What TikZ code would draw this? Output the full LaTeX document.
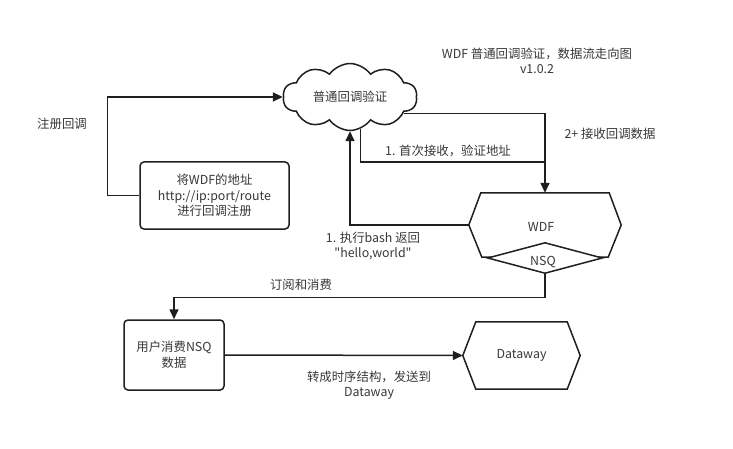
\documentclass[tikz,border=0pt]{standalone}
\usepackage{fontspec}
\setmainfont{Noto Sans CJK SC}[Ligatures=TeXOff]
\usetikzlibrary{shapes.symbols,shapes.geometric,arrows.meta,calc}
\begin{document}
\begin{tikzpicture}[x=1pt,y=-1pt,
  line/.style={draw=black!88, line width=1.5pt},
  arr/.style={line, -{Triangle[length=10pt,width=9pt]}},
  txt/.style={text=black!78, font=\fontsize{12.4}{15.5}\selectfont, align=center, inner sep=0pt},
  box/.style={line, rounded corners=4pt, fill=white, txt},
  hexbase/.style={draw=none, txt}
]
\useasboundingbox (0,0) rectangle (733,449);

% title
\node[txt] (title) at (537,61) {WDF 普通回调验证，数据流走向图\\v1.0.2};

% nodes
\node[cloud, cloud puffs=10, cloud puff arc=110, aspect=2, line, fill=white,
      minimum width=134pt, minimum height=66pt, txt] (cloud) at (350,97) {普通回调验证};
\node[box, minimum width=149pt, minimum height=67pt] (reg) at (214.5,195.5)
  {将WDF的地址\\http://ip:port/route\\进行回调注册};
\node[hexbase, minimum width=152pt, minimum height=64pt] (wdf) at (545,225) {};
\node[hexbase, minimum width=117pt, minimum height=67pt] (dw) at (521.5,355.5) {Dataway};
\node[box, minimum width=100pt, minimum height=70pt] (user) at (174,355) {用户消费NSQ\\数据};

% hexagons
\draw[line] (wdf.west) -- ($(wdf.north west)+(12,0)$) -- ($(wdf.north east)+(-12,0)$)
  -- (wdf.east) -- ($(wdf.south east)+(-13,0)$) -- ($(wdf.south west)+(13,0)$) -- cycle;
\draw[line] (dw.west) -- ($(dw.north west)+(13,0)$) -- ($(dw.north east)+(-13,0)$)
  -- (dw.east) -- ($(dw.south east)+(-13,0)$) -- ($(dw.south west)+(13,0)$) -- cycle;
\node[txt] (wdftext) at (541,227) {WDF};
\node[diamond, line, fill=white, minimum width=115pt, minimum height=31pt, txt] (nsq) at (545,258) {};
\node[txt] (nsqtext) at (543,262) {NSQ};

% connectors
\draw[arr] (reg.west) -- ++(-32,0) |- (cloud.west);
\draw[arr] (cloud.-17) -| (wdf.north);
\draw[line] (cloud.-72) |- ($(wdf.north)+(0,-31)$);
\draw[arr] (wdf.west) -| (cloud.south);
\draw[arr] (nsq.south) -- ++(0,23) -| (user.north);
\draw[arr] (user.east) -- (dw.west);

% labels
\node[txt] (l1) at (62,124) {注册回调};
\node[txt] (l2) at (448,151) {1. 首次接收，验证地址};
\node[txt] (l3) at (610,134) {2+ 接收回调数据};
\node[txt] (l4) at (373,246) {1. 执行bash 返回\\"hello,world"};
\node[txt] (l5) at (301,285) {订阅和消费};
\node[txt] (l6) at (369,385) {转成时序结构，发送到\\Dataway};
\end{tikzpicture}
\end{document}
